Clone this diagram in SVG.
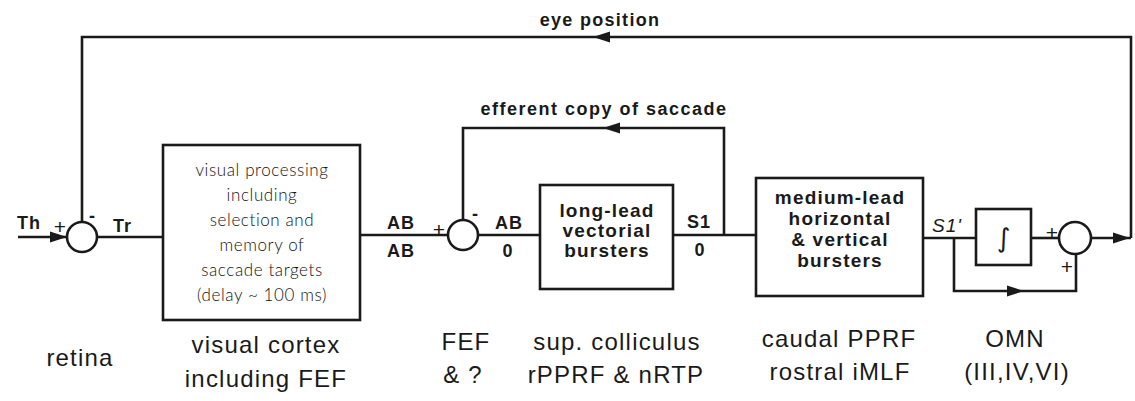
<svg xmlns="http://www.w3.org/2000/svg" width="1135" height="401" viewBox="0 0 1135 401">
<style>
.ln{fill:none;stroke:#1a1a1a;stroke-width:2.6;stroke-linejoin:miter}
.bx{fill:#fff;stroke:#1a1a1a;stroke-width:2.6}
.sum{fill:#fff;stroke:#1a1a1a;stroke-width:2.6}
.ah{fill:#1a1a1a}
.b{font-family:"Liberation Sans",Arial,sans-serif;font-weight:bold;fill:#1a1a1a}
.lt{font-family:Lato,"Open Sans",sans-serif;font-weight:300;font-size:17px;fill:#111;text-anchor:middle;letter-spacing:0.6px}
.lab{font-family:"Liberation Sans",Arial,sans-serif;font-size:24px;fill:#1a1a1a;text-anchor:middle;letter-spacing:1.2px}
.sg{font-family:"Liberation Sans",Arial,sans-serif;font-size:21px;fill:#1a1a1a;text-anchor:middle}
.bt{font-size:19px;text-anchor:middle;letter-spacing:1.2px}
.sig{font-size:18px;letter-spacing:1px}
</style>
<defs>
<polygon id="arr" class="ah" points="0,0 -17,-5.5 -17,5.5"/>
</defs>
<g id="connectors">
<path class="ln" d="M18,237 H67"/>
<use href="#arr" x="67" y="237"/>
<path class="ln" d="M97,237 H163"/>
<path class="ln" d="M360,235 H448"/>
<path class="ln" d="M478,235 H540"/>
<path class="ln" d="M673,235 H757"/>
<path class="ln" d="M724,235 V128 H463 V220"/>
<use href="#arr" transform="translate(603,128) rotate(180)"/>
<path class="ln" d="M923,238 H976"/>
<path class="ln" d="M1031,238 H1059"/>
<path class="ln" d="M954,238 V291 H1076 V254"/>
<use href="#arr" x="1024" y="291"/>
<path class="ln" d="M1091,238 H1131"/>
<use href="#arr" x="1130" y="238"/>
<path class="ln" d="M1131,238 V37 H82 V222"/>
<use href="#arr" transform="translate(593,37) rotate(180)"/>
</g>
<g id="sum1">
<circle class="sum" cx="82" cy="237" r="15"/>
<text class="sg" x="60" y="234">+</text>
<text class="b" x="92" y="222" font-size="18" text-anchor="middle">-</text>
</g>
<g id="sum2">
<circle class="sum" cx="463" cy="235" r="15"/>
<text class="sg" x="439" y="237">+</text>
<text class="b" x="475" y="220" font-size="18" text-anchor="middle">-</text>
</g>
<g id="sum3">
<circle class="sum" cx="1075" cy="238" r="16"/>
<text class="sg" x="1052" y="240">+</text>
<text class="sg" x="1067" y="274">+</text>
</g>
<g id="box1">
<rect class="bx" x="163" y="145" width="197" height="175"/>
<text class="lt" x="262" y="176">visual processing</text>
<text class="lt" x="262" y="201">including</text>
<text class="lt" x="262" y="226">selection and</text>
<text class="lt" x="262" y="251">memory of</text>
<text class="lt" x="262" y="276">saccade targets</text>
<text class="lt" x="262" y="301">(delay ~ 100 ms)</text>
</g>
<g id="box2">
<rect class="bx" x="540" y="185" width="133" height="104"/>
<text class="b bt" x="607" y="217">long-lead</text>
<text class="b bt" x="607" y="237">vectorial</text>
<text class="b bt" x="607" y="257">bursters</text>
</g>
<g id="box3">
<rect class="bx" x="756" y="178" width="167" height="118"/>
<text class="b bt" x="840" y="204">medium-lead</text>
<text class="b bt" x="840" y="225">horizontal</text>
<text class="b bt" x="840" y="246">&amp; vertical</text>
<text class="b bt" x="840" y="267">bursters</text>
</g>
<g id="integrator">
<rect class="bx" x="976" y="209" width="55" height="56"/>
<text x="1003.5" y="247" font-family="DejaVu Sans, sans-serif" font-size="26" text-anchor="middle" fill="#1a1a1a">∫</text>
</g>
<g id="signals">
<text class="b sig" x="17" y="229">Th</text>
<text class="b sig" x="113" y="232">Tr</text>
<text class="b sig" x="387" y="229">AB</text>
<text class="b sig" x="387" y="257">AB</text>
<text class="b sig" x="495" y="229">AB</text>
<text class="b sig" x="508" y="257" text-anchor="middle">0</text>
<text class="b sig" x="687" y="228">S1</text>
<text class="b sig" x="700" y="256" text-anchor="middle">0</text>
<text x="932" y="232" font-family="Liberation Sans, Arial, sans-serif" font-style="italic" font-size="19" fill="#1a1a1a" letter-spacing="1">S1'</text>
<text class="b" x="600" y="26" font-size="18" text-anchor="middle" letter-spacing="1.3">eye position</text>
<text class="b" x="604" y="115" font-size="18" text-anchor="middle" letter-spacing="1.5">efferent copy of saccade</text>
</g>
<g id="labels">
<text class="lab" x="80" y="366">retina</text>
<text class="lab" x="266" y="353">visual cortex</text>
<text class="lab" x="266" y="387">including FEF</text>
<text class="lab" x="466" y="350">FEF</text>
<text class="lab" x="463" y="383">&amp; ?</text>
<text class="lab" x="617" y="350">sup. colliculus</text>
<text class="lab" x="616" y="383">rPPRF &amp; nRTP</text>
<text class="lab" x="839" y="347">caudal PPRF</text>
<text class="lab" x="840" y="380">rostral iMLF</text>
<text class="lab" x="1015" y="347">OMN</text>
<text class="lab" x="1017" y="380">(III,IV,VI)</text>
</g>
</svg>
